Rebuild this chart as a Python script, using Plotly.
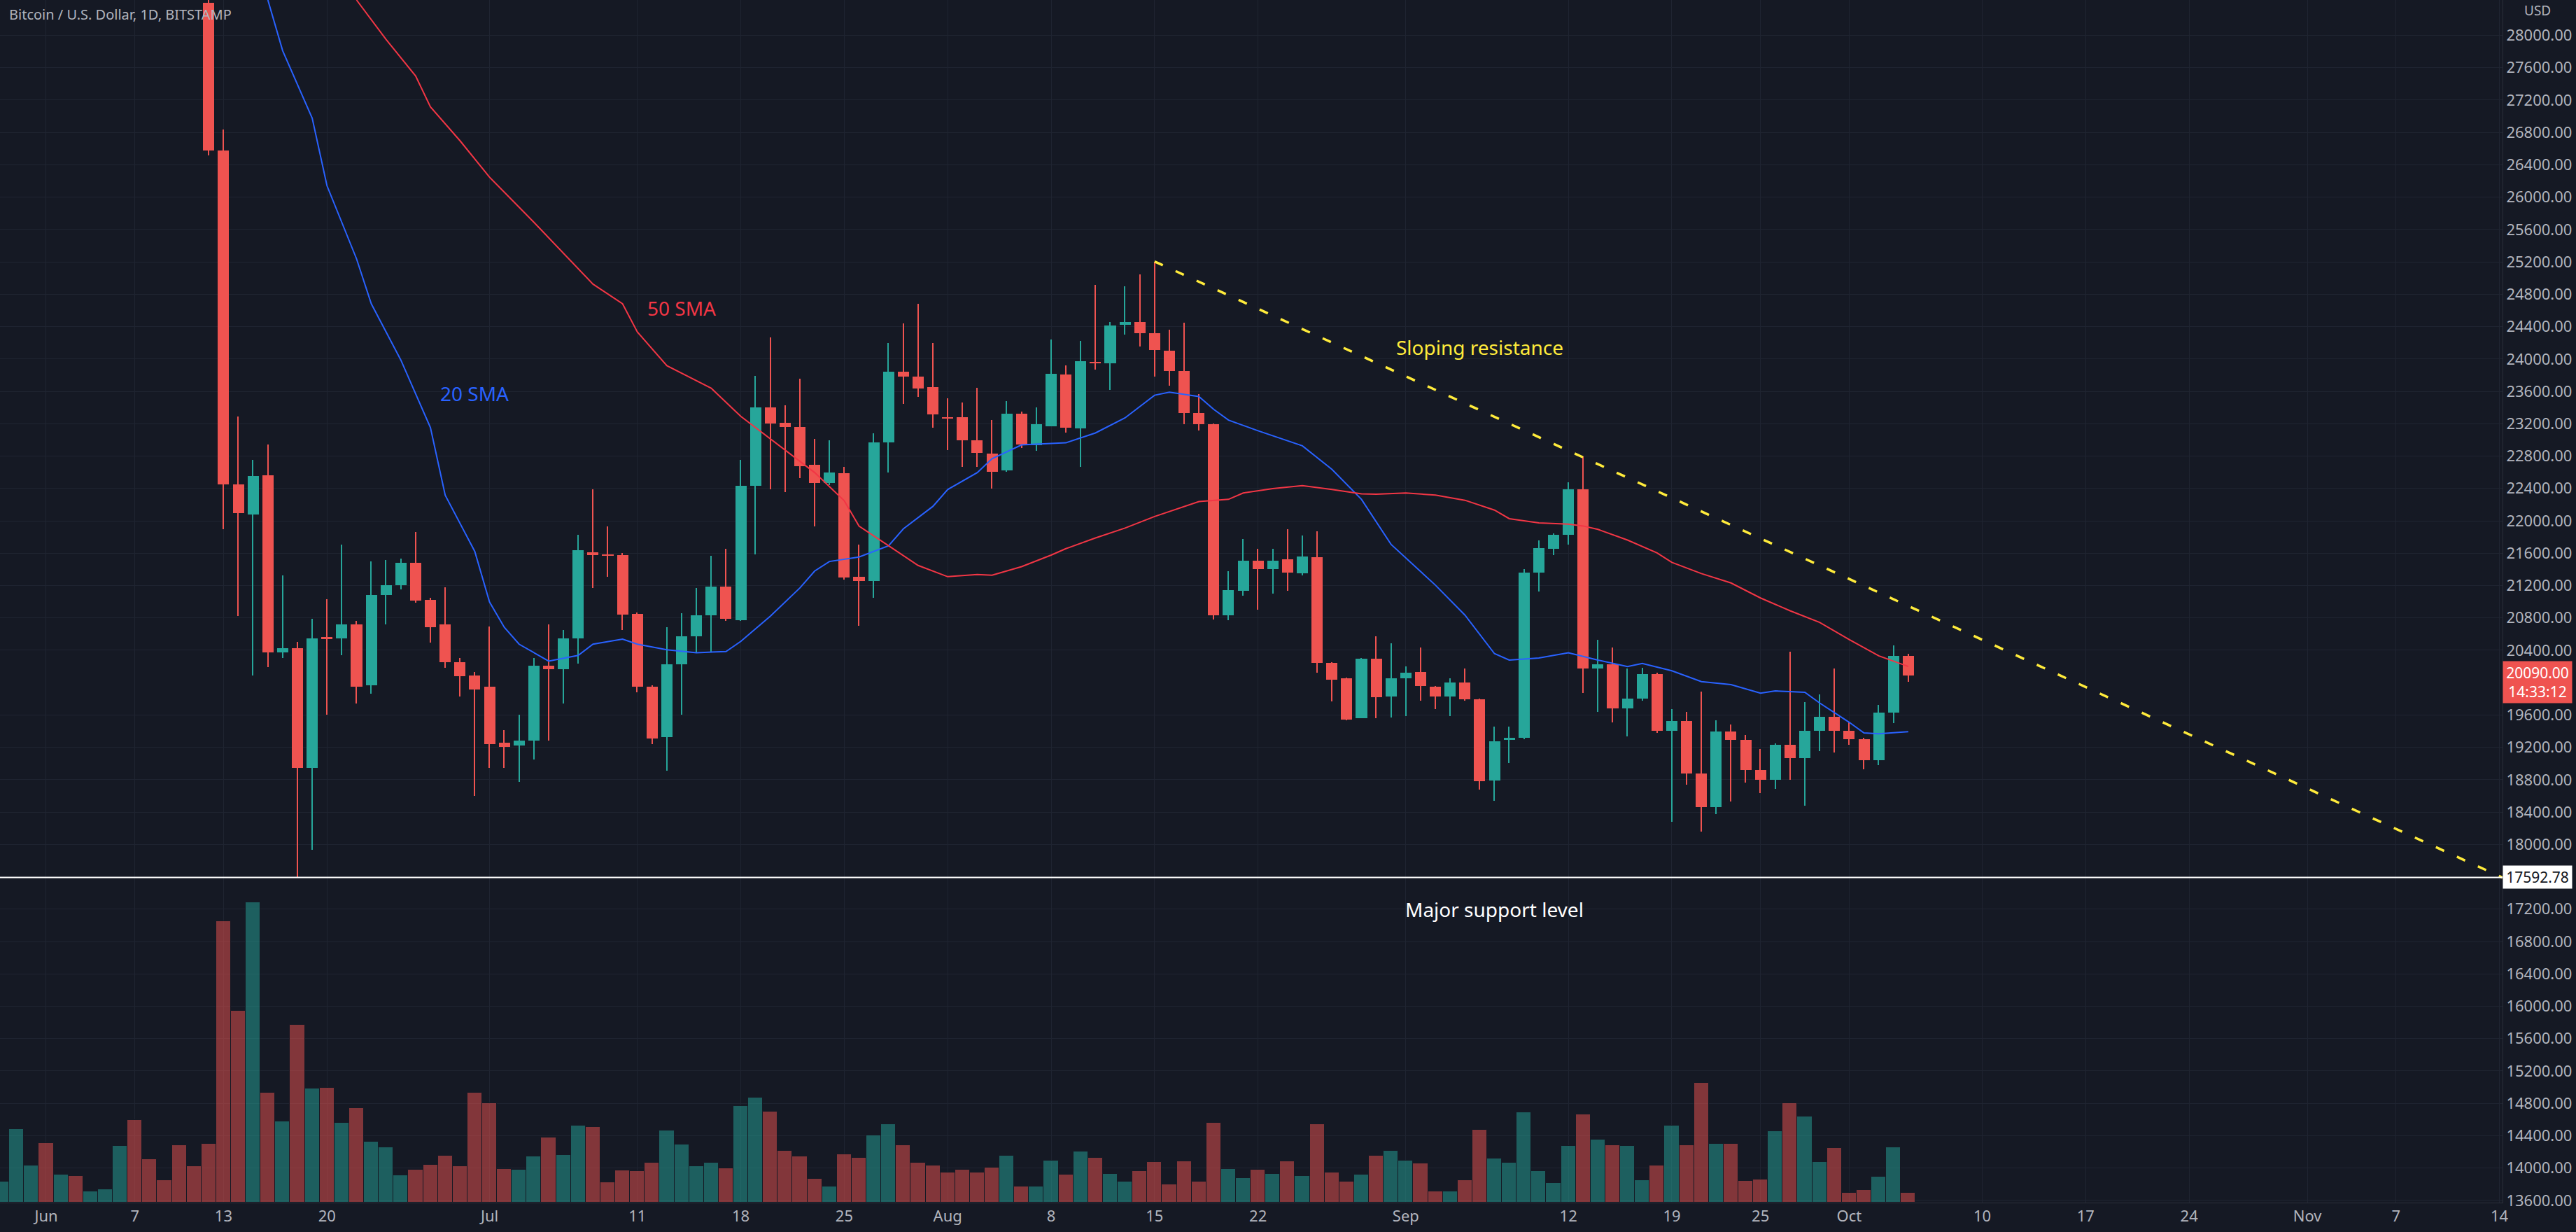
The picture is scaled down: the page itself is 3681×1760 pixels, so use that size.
import pandas as pd
import plotly.graph_objects as go

# daily candles, 2022-06-12 .. 2022-10-05
candle_start = "2022-06-12"
opens = [28400, 26573, 22450, 22074, 22561, 20370, 20426, 18944, 20560, 20550, 20718, 19967, 21087, 21205, 21483, 21024, 20718, 20252, 20092,
         19953, 19258, 19223, 19279, 20210, 20162, 20544, 21615, 21587, 21573, 20850, 19946, 19327, 20224, 20572, 20836, 21191, 20774, 22429, 23402,
         23208, 23159, 22693, 22464, 22589, 21309, 21260, 22971, 23847, 23778, 23653,
         23284, 23284, 22992, 22832, 22620, 23325, 22938, 23166, 23812, 23139, 23960, 23950, 24421, 24453, 24315, 24103, 23854, 23335, 23192,
         20834, 21137, 21507, 21401, 21523, 21348, 21550, 20241, 20050, 19563, 20294, 19828,
         20050, 20130, 19950, 19828, 20003, 19791, 18794, 19298, 19314, 21364, 21656, 21830, 22387, 20172, 20225, 19685, 19801, 20109, 19404,
         19526, 18874, 18461, 19393, 19288, 18917, 18795, 19229, 19070, 19404, 19579,
         19404, 19298, 19044, 19626, 20331]
highs = [28550, 26837, 23291, 22749, 22943, 21323, 20500, 20787, 21030, 21706, 20760, 21500, 21518, 21532, 21865, 21050, 21177, 20300, 20127,
         20697, 19411, 19605, 20300, 20718, 20650, 21830, 22387, 21935, 21600, 20870, 19970, 20683, 20857, 21170, 21566, 21657, 22756, 23792, 24265,
         23430, 23757, 23013, 22999, 22665, 21706, 23083, 24195, 24438, 24682, 24195,
         23514, 23465, 23640, 23245, 23483, 23351, 23404, 24241, 23918, 24225, 24914, 24453, 24898, 25046, 25205, 24358, 24448, 23563, 23200,
         21375, 21772, 21656, 21656, 21894, 21815, 21867, 20250, 20060, 20305, 20570, 20490,
         20200, 20437, 19960, 20050, 20172, 19800, 19457, 19457, 21400, 21762, 21841, 22477, 22795, 20527, 20437, 20172, 20183, 20120, 19669,
         19642, 19891, 19536, 19483, 19351, 19176, 19245, 20384, 19759, 19854, 20172,
         19510, 19320, 19722, 20464, 20358]
lows = [26520, 21900, 20822, 20092, 20196, 20300, 17593, 17936, 19606, 20336, 19744, 19863, 20718, 21150, 20990, 20496, 20183, 19830, 18597,
        18945, 18945, 18771, 19050, 19286, 19744, 20231, 21170, 21309, 20650, 19883, 19244, 18910, 19605, 20370, 20370, 20760, 20760, 21587, 22387,
        22352, 22526, 21935, 22440, 21274, 20704, 21052, 22596, 23444, 23534, 23152,
        22874, 22665, 22665, 22397, 22609, 22900, 22864, 23166, 23086, 22662, 23870, 23616, 24305, 24156, 23785, 23669, 23192, 23113, 20781,
        20771, 21073, 20898, 21099, 21137, 21327, 20119, 19764, 19536, 19563, 19563, 19573,
        19590, 19775, 19669, 19590, 19775, 18678, 18541, 19006, 19300, 21126, 21576, 21709, 19870, 19642, 19510, 19335, 19775, 19378, 18276,
        18742, 18159, 18371, 18530, 18768, 18636, 18689, 18795, 18477, 19155, 19139,
        19229, 18927, 18980, 19499, 20013]
closes = [26573, 22450, 22095, 22554, 20370, 20426, 18944, 20544, 20545, 20718, 19953, 21087, 21205, 21483, 21010, 20683, 20252, 20078, 19911,
          19237, 19209, 19286, 20210, 20162, 20544, 21636, 21580, 21573, 20843, 19946, 19313, 20224, 20572, 20836, 21191, 20788, 22429, 23402, 23201,
          23159, 22679, 22464, 22596, 21302, 21260, 22971, 23847, 23778, 23639, 23319,
          23270, 22992, 22840, 22609, 23325, 22943, 23192, 23817, 23155, 23971, 23950, 24411, 24453, 24315, 24109, 23854, 23335, 23192, 20834,
          21142, 21507, 21401, 21507, 21364, 21560, 20241, 20040, 19547, 20294, 19817, 20050,
          20119, 19960, 19828, 20003, 19791, 18784, 19272, 19314, 21364, 21666, 21830, 22387, 20172, 20225, 19685, 19801, 20109, 19404, 19526,
          18874, 18461, 19393, 19288, 18917, 18795, 19229, 19070, 19404, 19579, 19404,
          19298, 19044, 19626, 20331, 20090]

# volume, 2022-05-29 .. 2022-10-05 (u = up day, d = down day)
volume_start = "2022-05-29"
volumes = [90, 314, 158, 254, 120, 113, 47, 56, 242, 353, 185, 95, 245, 155, 251, 1205, 822, 1286, 470, 347, 761, 488, 491, 341, 404, 260, 236,
           116, 140, 161, 200, 155, 470, 425, 143, 140, 197, 278, 203, 329, 323, 86, 137, 134, 170, 308, 248, 155, 170, 146, 413, 449, 389,
           221, 197, 101, 68, 206, 191, 287, 335, 245, 170, 158, 128, 140, 128, 149, 200, 68, 68, 179, 119, 218, 191, 122, 89, 134, 173,
           77, 176, 89, 341, 143, 104, 140, 122, 176, 113, 335, 128, 89, 119, 200, 221, 179, 167, 47, 47, 95, 311, 188, 170, 386, 134,
           83, 242, 377, 269, 245, 242, 95, 158, 329, 245, 512, 251, 251, 92, 98, 305, 425, 368, 173, 233, 41, 53, 110, 236, 41]
volume_dir = ("u u u d u d u u u d d d d d d d d u d u d u d u d u u u d d d d d "
              "d d u u d u u d d d d d u u u u d u u d d d d u d d u u d d d "
              "d d d d u d u u d u d u u d d d d d d u u d u d u d d d u d u "
              "u d d u d d u u u u u u d u d u u d u d d u d d d u d u u d "
              "d d u u d").split()

# moving averages
sma20_dates = ["2022-06-16", "2022-06-17", "2022-06-19", "2022-06-20", "2022-06-22", "2022-06-23", "2022-06-25", "2022-06-27", "2022-06-28",
               "2022-06-30", "2022-07-01", "2022-07-02", "2022-07-03", "2022-07-05", "2022-07-07", "2022-07-08", "2022-07-10", "2022-07-11",
               "2022-07-13", "2022-07-15", "2022-07-17", "2022-07-18", "2022-07-20", "2022-07-22", "2022-07-23", "2022-07-24", "2022-07-26",
               "2022-07-28", "2022-07-29", "2022-07-31", "2022-08-01", "2022-08-03", "2022-08-04", "2022-08-06", "2022-08-09", "2022-08-11",
               "2022-08-13", "2022-08-15", "2022-08-16", "2022-08-18", "2022-08-19", "2022-08-20", "2022-08-22", "2022-08-25", "2022-08-27",
               "2022-08-29", "2022-08-31", "2022-09-03", "2022-09-05", "2022-09-07", "2022-09-08", "2022-09-10", "2022-09-12", "2022-09-14",
               "2022-09-16", "2022-09-17", "2022-09-19", "2022-09-21", "2022-09-23", "2022-09-25", "2022-09-26", "2022-09-28", "2022-09-29",
               "2022-10-01", "2022-10-02", "2022-10-03", "2022-10-05"]
sma20 = [28437, 27811, 26977, 26142, 25238, 24682, 23986, 23152, 22317, 21622, 20996, 20683, 20475, 20266, 20336, 20475, 20537, 20475,
         20405, 20370, 20384, 20509, 20822, 21170, 21379, 21497, 21553, 21692, 21900, 22178, 22387, 22596, 22768, 22938, 22964, 23086,
         23272, 23552, 23589, 23536, 23377, 23245, 23113, 22927, 22636, 22265, 21709, 21205, 20834, 20358, 20278, 20305, 20368, 20278,
         20199, 20236, 20146, 20013, 19976, 19870, 19897, 19881, 19748, 19510, 19378, 19367, 19393]
sma50_dates = ["2022-06-22", "2022-06-24", "2022-06-26", "2022-06-27", "2022-06-29", "2022-07-01", "2022-07-04", "2022-07-06", "2022-07-08",
               "2022-07-10", "2022-07-11", "2022-07-13", "2022-07-16", "2022-07-18", "2022-07-21", "2022-07-23", "2022-07-25", "2022-07-26",
               "2022-07-28", "2022-07-30", "2022-08-01", "2022-08-03", "2022-08-04", "2022-08-06", "2022-08-08", "2022-08-09", "2022-08-11",
               "2022-08-13", "2022-08-15", "2022-08-17", "2022-08-18", "2022-08-20", "2022-08-21", "2022-08-23", "2022-08-25", "2022-08-27",
               "2022-08-29", "2022-08-30", "2022-09-01", "2022-09-03", "2022-09-05", "2022-09-07", "2022-09-08", "2022-09-10", "2022-09-12",
               "2022-09-13", "2022-09-14", "2022-09-16", "2022-09-18", "2022-09-19", "2022-09-21", "2022-09-23", "2022-09-25", "2022-09-27",
               "2022-09-29", "2022-10-01", "2022-10-03", "2022-10-05"]
sma50 = [28437, 27950, 27498, 27116, 26698, 26247, 25690, 25308, 24925, 24682, 24334, 23917, 23639, 23291, 22874, 22596, 22248, 21935,
         21692, 21448, 21309, 21337, 21327, 21433, 21576, 21656, 21788, 21910, 22053, 22175, 22238, 22265, 22344, 22397, 22434, 22387,
         22334, 22328, 22344, 22318, 22254, 22132, 22026, 21974, 21958, 21936, 21894, 21762, 21603, 21486, 21348, 21232, 21046, 20888,
         20744, 20533, 20331, 20199]

resistance_dates = ["2022-08-15", "2022-11-14 05:00"]
resistance_prices = [25205, 17590]
support_level = 17592.78
last_price = 20090.00

tick_dates = ["2022-06-01", "2022-06-07", "2022-06-13", "2022-06-20", "2022-07-01", "2022-07-11", "2022-07-18", "2022-07-25",
              "2022-08-01", "2022-08-08", "2022-08-15", "2022-08-22", "2022-09-01", "2022-09-12", "2022-09-19", "2022-09-25",
              "2022-10-01", "2022-10-10", "2022-10-17", "2022-10-24", "2022-11-01", "2022-11-07", "2022-11-14"]
tick_labels = ["Jun", "7", "13", "20", "Jul", "11", "18", "25", "Aug", "8", "15", "22", "Sep", "12", "19", "25",
               "Oct", "10", "17", "24", "Nov", "7", "14"]
# price ticks every 400; 20000 and 17600 are hidden behind the price labels
y_ticks = [v for v in range(13600, 28001, 400) if v not in (20000, 17600)]

BG = "#151924"
GRID = "#1f2431"
UP = "#26a69a"
DOWN = "#ef5350"
TXT = "#b2b5be"
DAY_MS = 86400000

n = min(len(volumes), len(volume_dir))
cdates = pd.date_range(candle_start, periods=len(closes), freq="D")
vdates = pd.date_range(volume_start, periods=n, freq="D")

df = pd.DataFrame({"o": opens, "h": highs, "l": lows, "c": closes}, index=cdates)
df["up"] = df["c"] >= df["o"]
df["base"] = df[["o", "c"]].min(axis=1)
df["body"] = (df["c"] - df["o"]).abs().clip(lower=12)
df["col"] = df["up"].map({True: UP, False: DOWN})

fig = go.Figure()

# volume (behind everything)
vcol = ["rgba(38,166,154,0.5)" if d == "u" else "rgba(239,83,80,0.5)" for d in volume_dir[:n]]
fig.add_trace(go.Bar(x=vdates, y=volumes[:n], marker=dict(color=vcol, line=dict(color=BG, width=1)),
                     width=DAY_MS, yaxis="y2", hoverinfo="skip"))

# wicks and bodies
fig.add_trace(go.Bar(x=df.index, y=df["h"] - df["l"], base=df["l"], width=DAY_MS * 0.07,
                     marker=dict(color=df["col"], line=dict(width=0)), hoverinfo="skip"))
fig.add_trace(go.Bar(x=df.index, y=df["body"], base=df["base"], width=DAY_MS * 0.76,
                     marker=dict(color=df["col"], line=dict(width=0)), hoverinfo="skip"))

fig.add_trace(go.Scatter(x=sma20_dates, y=sma20, mode="lines", line=dict(color="#2962ff", width=2), hoverinfo="skip"))
fig.add_trace(go.Scatter(x=sma50_dates, y=sma50, mode="lines", line=dict(color="#f23645", width=2), hoverinfo="skip"))
fig.add_trace(go.Scatter(x=resistance_dates, y=resistance_prices, mode="lines",
                         line=dict(color="#ffeb3b", width=3.5, dash="13px,20px"), hoverinfo="skip"))

fig.add_hline(y=support_level, line=dict(color="#ffffff", width=2))

fig.update_layout(
    width=3681, height=1760,
    margin=dict(l=0, r=105, t=0, b=42),
    paper_bgcolor=BG, plot_bgcolor=BG,
    showlegend=False, barmode="overlay", bargap=0,
    font=dict(family="Noto Sans", color=TXT, size=22),
    xaxis=dict(type="date", range=["2022-05-28 21:00", "2022-11-14 05:00"], tickvals=tick_dates, ticktext=tick_labels,
               showgrid=True, gridcolor=GRID, gridwidth=1, zeroline=False, showline=True, linecolor="#2a2e39",
               ticks="", tickfont=dict(size=22, color=TXT)),
    yaxis=dict(range=[13573, 28437], side="right", tickvals=y_ticks, tickformat=".2f", showgrid=True,
               gridcolor=GRID, gridwidth=1, zeroline=False, showline=True, linecolor="#2a2e39", ticks="",
               tickfont=dict(size=22, color=TXT)),
    yaxis2=dict(range=[0, 5153], overlaying="y", visible=False),
)

fig.add_annotation(text="Bitcoin / U.S. Dollar, 1D, BITSTAMP", xref="paper", yref="paper", x=0.003, y=0.997,
                   xanchor="left", yanchor="top", showarrow=False, font=dict(size=20, color=TXT))
fig.add_annotation(text="USD", xref="paper", yref="paper", x=1.008, y=1.0, xanchor="left", yanchor="top",
                   showarrow=False, font=dict(size=19, color=TXT))
fig.add_annotation(text="50 SMA", x="2022-07-14", y=24630, showarrow=False, font=dict(size=28, color="#f23645"))
fig.add_annotation(text="20 SMA", x="2022-06-30", y=23575, showarrow=False, font=dict(size=28, color="#2962ff"))
fig.add_annotation(text="Sloping resistance", x="2022-09-06", y=24143, showarrow=False, font=dict(size=28, color="#ffeb3b"))
fig.add_annotation(text="Major support level", x="2022-09-07", y=17200, showarrow=False, font=dict(size=28, color="#ffffff"))

fig.add_annotation(text=f"{last_price:.2f}<br>14:33:12", xref="paper", x=1.0, y=last_price, xanchor="left", yanchor="middle",
                   showarrow=False, bgcolor=DOWN, font=dict(size=21, color="#ffffff"), borderpad=2, width=94, yshift=-10)
fig.add_annotation(text=f"{support_level:.2f}", xref="paper", x=1.0, y=support_level, xanchor="left", yanchor="middle",
                   showarrow=False, bgcolor="#ffffff", font=dict(size=21, color="#131722"), borderpad=2, width=94)

fig.write_html("out.html", config={"displayModeBar": False}, post_script="document.body.style.margin='0';")
